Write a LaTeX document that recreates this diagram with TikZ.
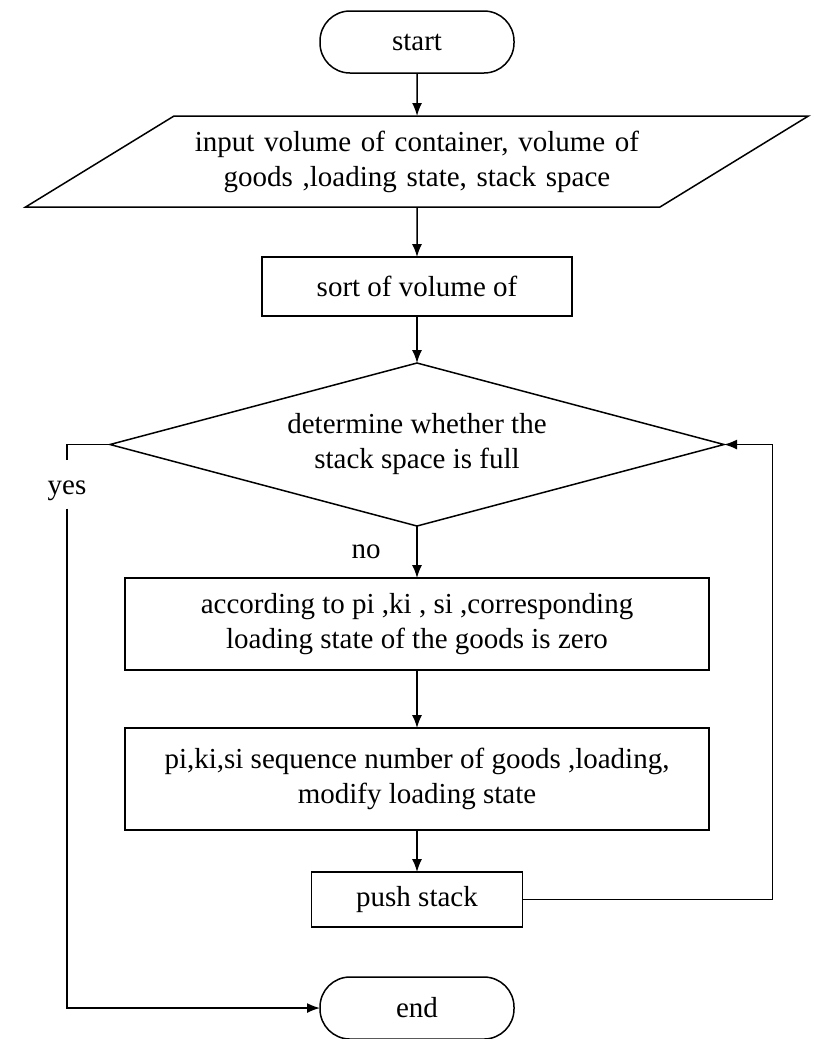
\documentclass[tikz,border=0pt]{standalone}
\usepackage{fontspec}
\setmainfont{Liberation Serif}
\usetikzlibrary{shapes.geometric, arrows.meta, positioning}

\begin{document}
\begin{tikzpicture}[
    x=1pt, y=-1pt,
    node distance=50pt,
    every node/.style={font=\fontsize{29}{35}\selectfont, outer sep=0pt},
    term/.style={rectangle, rounded corners=30pt, minimum width=194pt, minimum height=62pt, draw=black, line width=1.5pt},
    io/.style={trapezium, trapezium left angle=30, trapezium right angle=150, trapezium stretches=true, text width=460pt, align=center, inner xsep=13pt, inner ysep=12pt, minimum height=91pt, draw=black, line width=1.5pt},
    proc/.style={rectangle, minimum height=59pt, align=center, draw=black, line width=1.5pt},
    decision/.style={diamond, aspect=3.77, minimum width=614pt, minimum height=163pt, inner sep=0pt, align=center, draw=black, line width=1.5pt},
    arrow/.style={line width=1.5pt, -{Latex[length=13pt,width=10pt]}}
]
    \useasboundingbox (0,0) rectangle (814,1039);
    \node[term] (start) at (417,42) {start};
    \node[io, below=43pt of start] (input) {input volume of container, volume of\\goods ,loading state, stack space};
    \node[proc, minimum width=310pt, below=50pt of input] (sort) {sort of volume of};
    \node[decision, below=47pt of sort] (check) {determine whether the\\stack space is full};
    \node[proc, minimum width=584pt, minimum height=92pt, below=52pt of check] (select) {according to pi ,ki , si ,corresponding\\loading state of the goods is zero};
    \node[proc, minimum width=584pt, minimum height=102pt, below=58pt of select] (load) {pi,ki,si sequence number of goods ,loading,\\modify loading state};
    \node[proc, minimum width=211pt, minimum height=55pt, below=42pt of load] (push) {push stack};
    \node[term, minimum height=62pt, below=50pt of push] (stop) {end};
    \node[inner sep=0pt, minimum height=49pt] (yes) at (67,484) {\raisebox{-6pt}[14pt][6pt]{yes}};
    \draw[arrow] (start) -- (input);
    \draw[arrow] (input) -- (sort);
    \draw[arrow] (sort) -- (check);
    \draw[arrow] (check) -- node[left=33pt] (no) {no} (select);
    \draw[arrow] (select) -- (load);
    \draw[arrow] (load) -- (push);
    \draw[arrow] (push.east) -- ++(250,0) |- (check.east);
    \draw[line width=1.5pt] (check.west) -| (yes.north);
    \draw[arrow] (yes.south) |- (stop.west);
\end{tikzpicture}
\end{document}
